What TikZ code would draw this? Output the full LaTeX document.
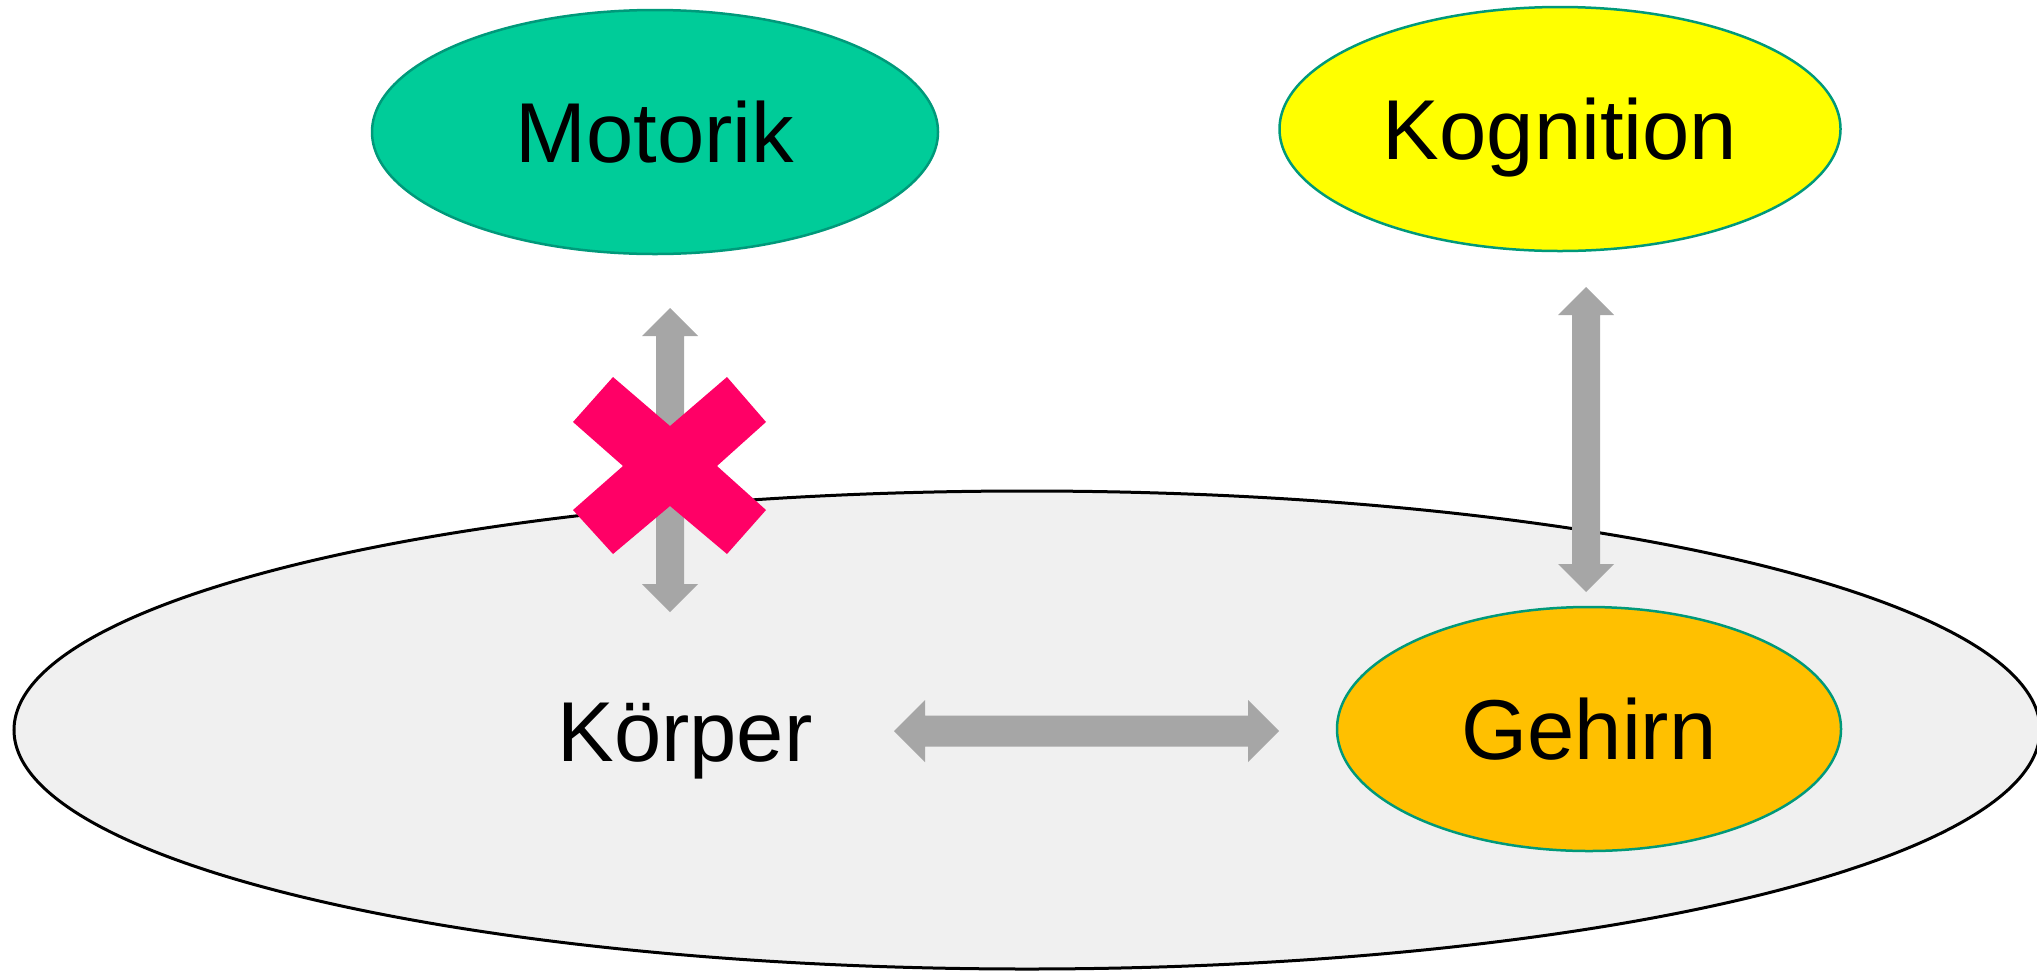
\documentclass[tikz,border=0pt]{standalone}
\usepackage{fontspec}
\setmainfont{Liberation Sans}
\usetikzlibrary{shapes.geometric,calc}
\definecolor{motgreen}{HTML}{00CC99}
\definecolor{kogyellow}{HTML}{FFFF00}
\definecolor{gehorange}{HTML}{FFC000}
\definecolor{tealline}{HTML}{00997A}
\definecolor{bodyfill}{HTML}{F0F0F0}
\definecolor{arrowgray}{HTML}{A6A6A6}
\definecolor{crosspink}{HTML}{FF0066}
\begin{document}
\begin{tikzpicture}[x=1pt,y=-1pt,
  bigtext/.style={font=\fontsize{85pt}{100pt}\selectfont, text height=61pt, text depth=0pt},
  blob/.style={ellipse, inner sep=0pt, draw=tealline, line width=2.5pt, bigtext},
  blockarrow/.style={fill=arrowgray}
]
\useasboundingbox (0,0) rectangle (2037,970);
\clip (0,0) rectangle (2037,970);
% body ellipse
\node[ellipse, draw=black, line width=3pt, fill=bodyfill, inner sep=0pt,
      minimum width=2026pt, minimum height=478pt] (body) at (1027,730) {};
\node[bigtext] (koerper) at (685,731) {Körper};
% ellipses
\node[blob, fill=motgreen, minimum width=566pt, minimum height=244pt] (motorik) at (655,132) {Motorik};
\node[blob, fill=kogyellow, minimum width=561pt, minimum height=244pt] (kognition) at (1560,129) {Kognition};
\node[blob, fill=gehorange, minimum width=504pt, minimum height=244pt] (gehirn) at (1589,729) {Gehirn};
% arrow end points
\coordinate (mA) at (670,308);
\coordinate (mB) at (670,612);
\coordinate (kA) at (1586,287);
\coordinate (kB) at (1586,592);
\coordinate (hA) at (894,731);
\coordinate (hB) at (1279,731);
% vertical block arrow Motorik <-> Koerper
\fill[blockarrow] (mA) -- ++(28,28) -- ++(-14,0) -- ($(mB)+(14,-28)$) -- ++(14,0) -- (mB)
  -- ++(-28,-28) -- ++(14,0) -- ($(mA)+(-14,28)$) -- ++(-14,0) -- cycle;
% vertical block arrow Kognition <-> Gehirn
\fill[blockarrow] (kA) -- ++(28,28) -- ++(-14,0) -- ($(kB)+(14,-28)$) -- ++(14,0) -- (kB)
  -- ++(-28,-28) -- ++(14,0) -- ($(kA)+(-14,28)$) -- ++(-14,0) -- cycle;
% horizontal block arrow Koerper <-> Gehirn
\fill[blockarrow] (hA) -- ++(31,-31) -- ++(0,15.5) -- ($(hB)+(-31,-15.5)$) -- ++(0,-15.5) -- (hB)
  -- ++(-31,31) -- ++(0,-15.5) -- ($(hA)+(31,15.5)$) -- ++(0,15.5) -- cycle;
% cross
\fill[crosspink] (573,422) -- (613,377) -- (670,426) -- (727,377) -- (766,422) -- (717,466)
  -- (766,510) -- (727,554) -- (670,506) -- (613,554) -- (573,510) -- (623,466) -- cycle;
\end{tikzpicture}
\end{document}
